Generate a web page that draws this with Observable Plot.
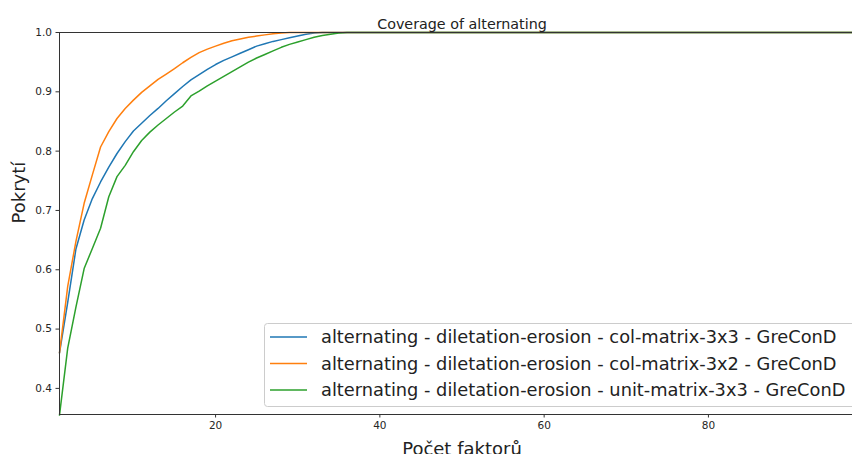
<!DOCTYPE html>
<html>
<head>
<meta charset="utf-8">
<script src="https://cdn.jsdelivr.net/npm/d3@7"></script>
<script src="https://cdn.jsdelivr.net/npm/@observablehq/plot@0.6"></script>
<style>
  html, body { margin: 0; padding: 0; background: #fff; overflow: hidden; }
  #chart { width: 852px; height: 454px; overflow: hidden; }
  #chart svg { display: block; max-width: none !important; width: 880px; height: 454px; }
</style>
</head>
<body>
<div id="chart"></div>
<script>
// Number of factors (x axis)
const factors = d3.range(1, 100);

// Coverage per number of factors, one array per configuration
const colMatrix3x3 = [
  0.460, 0.545, 0.635, 0.684, 0.720, 0.748, 0.773, 0.796, 0.816, 0.834,
  0.847, 0.860, 0.872, 0.885, 0.897, 0.909, 0.920, 0.929, 0.938, 0.946,
  0.953, 0.959, 0.965, 0.971, 0.977, 0.981, 0.985, 0.988, 0.991, 0.994,
  0.997, 0.999, 1, 1, 1, 1, 1, 1, 1, 1,
  1, 1, 1, 1, 1, 1, 1, 1, 1, 1,
  1, 1, 1, 1, 1, 1, 1, 1, 1, 1,
  1, 1, 1, 1, 1, 1, 1, 1, 1, 1,
  1, 1, 1, 1, 1, 1, 1, 1, 1, 1,
  1, 1, 1, 1, 1, 1, 1, 1, 1, 1,
  1, 1, 1, 1, 1, 1, 1, 1, 1
];
const colMatrix3x2 = [
  0.460, 0.572, 0.648, 0.712, 0.760, 0.807, 0.833, 0.855, 0.872, 0.886,
  0.899, 0.910, 0.921, 0.930, 0.939, 0.949, 0.958, 0.966, 0.972, 0.977,
  0.982, 0.986, 0.989, 0.992, 0.994, 0.996, 0.998, 0.999, 1, 1,
  1, 1, 1, 1, 1, 1, 1, 1, 1, 1,
  1, 1, 1, 1, 1, 1, 1, 1, 1, 1,
  1, 1, 1, 1, 1, 1, 1, 1, 1, 1,
  1, 1, 1, 1, 1, 1, 1, 1, 1, 1,
  1, 1, 1, 1, 1, 1, 1, 1, 1, 1,
  1, 1, 1, 1, 1, 1, 1, 1, 1, 1,
  1, 1, 1, 1, 1, 1, 1, 1, 1
];
const unitMatrix3x3 = [
  0.355, 0.468, 0.537, 0.602, 0.636, 0.670, 0.723, 0.757, 0.776, 0.799,
  0.818, 0.832, 0.844, 0.855, 0.866, 0.876, 0.893, 0.901, 0.910, 0.918,
  0.926, 0.934, 0.942, 0.950, 0.957, 0.963, 0.969, 0.975, 0.980, 0.984,
  0.988, 0.992, 0.995, 0.997, 0.999, 1, 1, 1, 1, 1,
  1, 1, 1, 1, 1, 1, 1, 1, 1, 1,
  1, 1, 1, 1, 1, 1, 1, 1, 1, 1,
  1, 1, 1, 1, 1, 1, 1, 1, 1, 1,
  1, 1, 1, 1, 1, 1, 1, 1, 1, 1,
  1, 1, 1, 1, 1, 1, 1, 1, 1, 1,
  1, 1, 1, 1, 1, 1, 1, 1, 1
];

const seriesNames = [
  "alternating - diletation-erosion - col-matrix-3x3 - GreConD",
  "alternating - diletation-erosion - col-matrix-3x2 - GreConD",
  "alternating - diletation-erosion - unit-matrix-3x3 - GreConD"
];
const seriesValues = [colMatrix3x3, colMatrix3x2, unitMatrix3x3];
const seriesColors = ["#1f77b4", "#ff7f0e", "#2ca02c"];

const xTicks = [20, 40, 60, 80];
const yTicks = [0.4, 0.5, 0.6, 0.7, 0.8, 0.9, 1.0];

const title = "Coverage of alternating";
const xLabel = "Počet faktorů";
const yLabel = "Pokrytí";

const rows = seriesNames.flatMap((name, i) =>
  factors.map((k, j) => ({series: name, k, v: seriesValues[i][j]}))
);

const font = "DejaVu Sans, sans-serif";

const chart = Plot.plot({
  width: 880,
  height: 454,
  marginTop: 32,
  marginBottom: 40,
  marginLeft: 59,
  marginRight: 16,
  style: {fontFamily: font, fontSize: "10.5px", color: "#262626", background: "#fff"},
  x: {domain: [1, 99]},
  y: {domain: [0.356, 1]},
  color: {domain: seriesNames, range: seriesColors},
  marks: [
    Plot.line(rows, {x: "k", y: "v", z: "series", stroke: "series", strokeWidth: 1.5}),
    Plot.frame({stroke: "#333", strokeWidth: 1}),
    Plot.axisX({ticks: xTicks, tickSize: 3.5, tickPadding: 3.5, label: null, stroke: "#333"}),
    Plot.axisY({ticks: yTicks, tickFormat: d => d.toFixed(1), tickSize: 3.5, tickPadding: 4, label: null, stroke: "#333"}),
    Plot.text([title], {frameAnchor: "top", dy: -14, fontSize: 14.3, fill: "#222"}),
    Plot.text([xLabel], {frameAnchor: "bottom", dy: 40, fontSize: 18, fill: "#222"}),
    Plot.text([yLabel], {frameAnchor: "left", dx: -40, rotate: -90, fontSize: 18, fill: "#222"})
  ]
});

// Legend box in the lower right of the axes
const svg = d3.select(chart);
const lg = svg.append("g")
  .attr("font-family", font)
  .attr("text-anchor", "start");
lg.append("rect")
  .attr("x", 264.5).attr("y", 323.5)
  .attr("width", 620).attr("height", 83)
  .attr("rx", 3)
  .attr("fill", "#fff").attr("fill-opacity", 0.8)
  .attr("stroke", "#ccc");
seriesNames.forEach((name, i) => {
  const y = 337 + i * 26.5;
  lg.append("path")
    .attr("d", `M270,${y}H307`)
    .attr("fill", "none")
    .attr("stroke", seriesColors[i]).attr("stroke-width", 1.5);
  lg.append("text")
    .attr("x", 321).attr("y", y)
    .attr("dy", "0.35em")
    .attr("font-size", 17.8)
    .attr("fill", "#222")
    .text(name);
});

document.getElementById("chart").append(chart);
</script>
</body>
</html>
